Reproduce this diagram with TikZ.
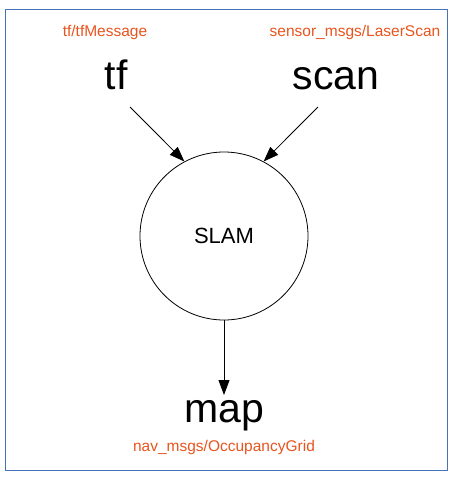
\documentclass[tikz,border=0pt]{standalone}
\usepackage{fontspec}
\setmainfont{Liberation Sans}
\usetikzlibrary{arrows.meta}
\definecolor{msgorange}{RGB}{232,84,30}
\definecolor{frameblue}{RGB}{72,114,184}
\begin{document}
\begin{tikzpicture}[x=1pt,y=1pt,
  topic/.style={inner sep=0pt, font=\fontsize{41}{41}\selectfont, anchor=base},
  msg/.style={inner sep=0pt, text=msgorange, font=\fontsize{15.5}{16}\selectfont},
  conn/.style={line width=0.8pt, -{Triangle[length=15pt,width=11pt]}}]
\useasboundingbox (0,0) rectangle (455,-480);
\node[draw=frameblue, line width=0.8pt, minimum width=442pt, minimum height=461pt, inner sep=0pt] (frame) at (226,-239.5) {};
\node[msg] (tfmsg) at (105,-32) {tf/tfMessage};
\node[msg] (scanmsg) at (355,-32) {sensor\_msgs/LaserScan};
\node[topic] (tf) at (116,-89) {tf};
\node[topic] (scan) at (336,-89) {scan};
\node[draw, circle, line width=0.8pt, minimum size=168pt, inner sep=0pt, font=\fontsize{22}{22}\selectfont] (slam) at (224,-236) {SLAM};
\node[topic] (map) at (224,-422) {map};
\node[msg] (mapmsg) at (224,-447) {nav\_msgs/OccupancyGrid};
\coordinate (tfs) at (130,-107);
\coordinate (scs) at (318,-107);
\coordinate (mapin) at (224,-395);
\draw[conn] (tfs) -- (slam.118);
\draw[conn] (scs) -- (slam.62);
\draw[conn] (slam.south) -- (mapin);
\end{tikzpicture}
\end{document}
